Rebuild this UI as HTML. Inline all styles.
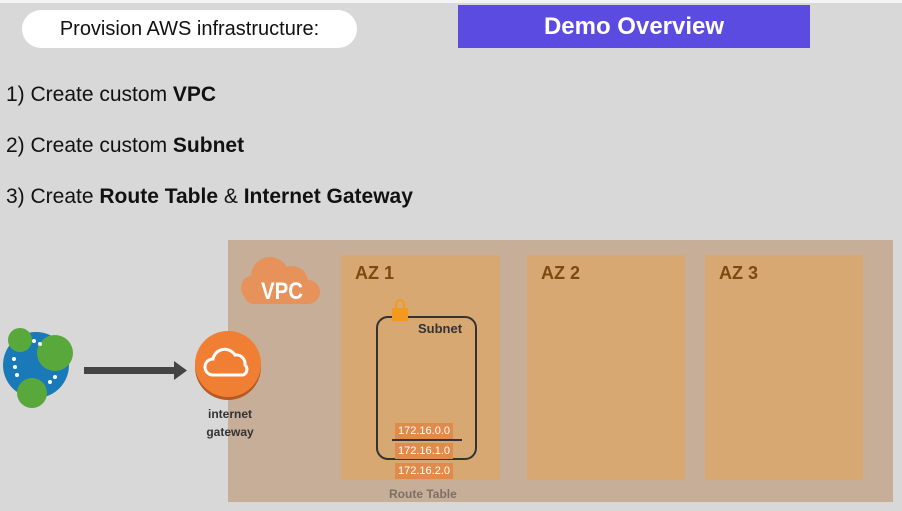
<!DOCTYPE html>
<html><head><style>
body{margin:0;width:902px;height:511px;background:#d8d8d8;position:relative;overflow:hidden;font-family:"Liberation Sans",sans-serif}
.a{position:absolute}
.step{font-size:21px;color:#111;left:6px}
.az{background:#d7a872;top:255px;height:225px}
.azt{font-weight:bold;font-size:18px;color:#7a4a10;position:absolute;left:14px;top:8px}
.rt{background:#e08a4c;color:#fff;font-size:11px;width:58px;height:16px;line-height:16px;text-align:center;left:395px}
</style></head><body>
<div class="a" style="left:0;top:0;width:902px;height:3px;background:#f4f4f4"></div>
<div class="a" style="left:22px;top:10px;width:335px;height:38px;background:#fff;border-radius:19px;font-size:20px;line-height:38px;text-align:center;color:#111">Provision AWS infrastructure:</div>
<div class="a" style="left:458px;top:5px;width:352px;height:43px;background:#5b4be0;color:#fff;font-weight:bold;font-size:24px;line-height:43px;text-align:center">Demo Overview</div>
<div class="a step" style="top:83px">1) Create custom <b>VPC</b></div>
<div class="a step" style="top:134px">2) Create custom <b>Subnet</b></div>
<div class="a step" style="top:185px">3) Create <b>Route Table</b> &amp; <b>Internet Gateway</b></div>
<div class="a" style="left:228px;top:240px;width:665px;height:262px;background:#c6ae98"></div>
<div class="a az" style="left:341px;width:159px"><div class="azt">AZ 1</div></div>
<div class="a az" style="left:527px;width:158px"><div class="azt">AZ 2</div></div>
<div class="a az" style="left:705px;width:158px"><div class="azt">AZ 3</div></div>
<svg class="a" style="left:240px;top:254px" width="84" height="54"><g fill="#e6925a"><circle cx="30" cy="22" r="19"/><circle cx="52" cy="28" r="16"/><circle cx="14" cy="34" r="13"/><circle cx="68" cy="38" r="12"/><rect x="4" y="30" width="72" height="20" rx="10"/></g><text x="42" y="45" font-family="Liberation Sans" font-size="24" font-weight="bold" fill="#fff" text-anchor="middle" transform="translate(42 0) scale(0.85 1) translate(-42 0)">VPC</text></svg>
<div class="a" style="left:376px;top:316px;width:97px;height:140px;border:2px solid #333;border-radius:12px"></div>
<div class="a" style="left:392px;top:299px;width:16px;height:22px"><div class="a" style="left:3px;top:0;width:6px;height:8px;border:2px solid #f39a1e;border-bottom:none;border-radius:5px 5px 0 0"></div><div class="a" style="left:0;top:9px;width:16px;height:13px;background:#f39a1e"></div></div>
<div class="a" style="left:418px;top:321px;font-weight:bold;font-size:13px;color:#333">Subnet</div>
<div class="a rt" style="top:423px">172.16.0.0</div>
<div class="a" style="left:392px;top:439px;width:70px;height:2px;background:#333"></div>
<div class="a rt" style="top:443px">172.16.1.0</div>
<div class="a rt" style="top:463px">172.16.2.0</div>
<div class="a" style="left:389px;top:487px;font-weight:bold;font-size:12px;color:#7d6f66">Route Table</div>
<div class="a" style="left:195px;top:331px;width:66px;height:66px;border-radius:50%;background:#f07f34;box-shadow:0 3px 0 #b65a22"></div>
<svg class="a" style="left:203px;top:345px" width="50" height="36"><path d="M10 30 a8 8 0 0 1 0-16 a12 12 0 0 1 22-4 a9 9 0 0 1 10 10 a6 6 0 0 1 -2 10 z" fill="none" stroke="#fff" stroke-width="3"/></svg>
<div class="a" style="left:195px;top:405px;width:70px;text-align:center;font-weight:bold;font-size:12px;line-height:18px;color:#333">internet<br>gateway</div>
<svg class="a" style="left:80px;top:358px" width="110" height="26"><rect x="4" y="9" width="92" height="7" fill="#444"/><polygon points="94,3 107,12.5 94,22" fill="#444"/></svg>
<svg class="a" style="left:0;top:325px" width="80" height="85"><circle cx="36" cy="40" r="33" fill="#1a7ab8"/><circle cx="20" cy="15" r="12" fill="#58a83b"/><circle cx="55" cy="28" r="18" fill="#58a83b"/><circle cx="32" cy="68" r="15" fill="#58a83b"/><g fill="#fff"><circle cx="14" cy="34" r="2"/><circle cx="15" cy="42" r="2"/><circle cx="17" cy="50" r="2"/><circle cx="34" cy="16" r="2"/><circle cx="40" cy="19" r="2"/><circle cx="50" cy="57" r="2"/><circle cx="55" cy="52" r="2"/></g></svg>
</body></html>
